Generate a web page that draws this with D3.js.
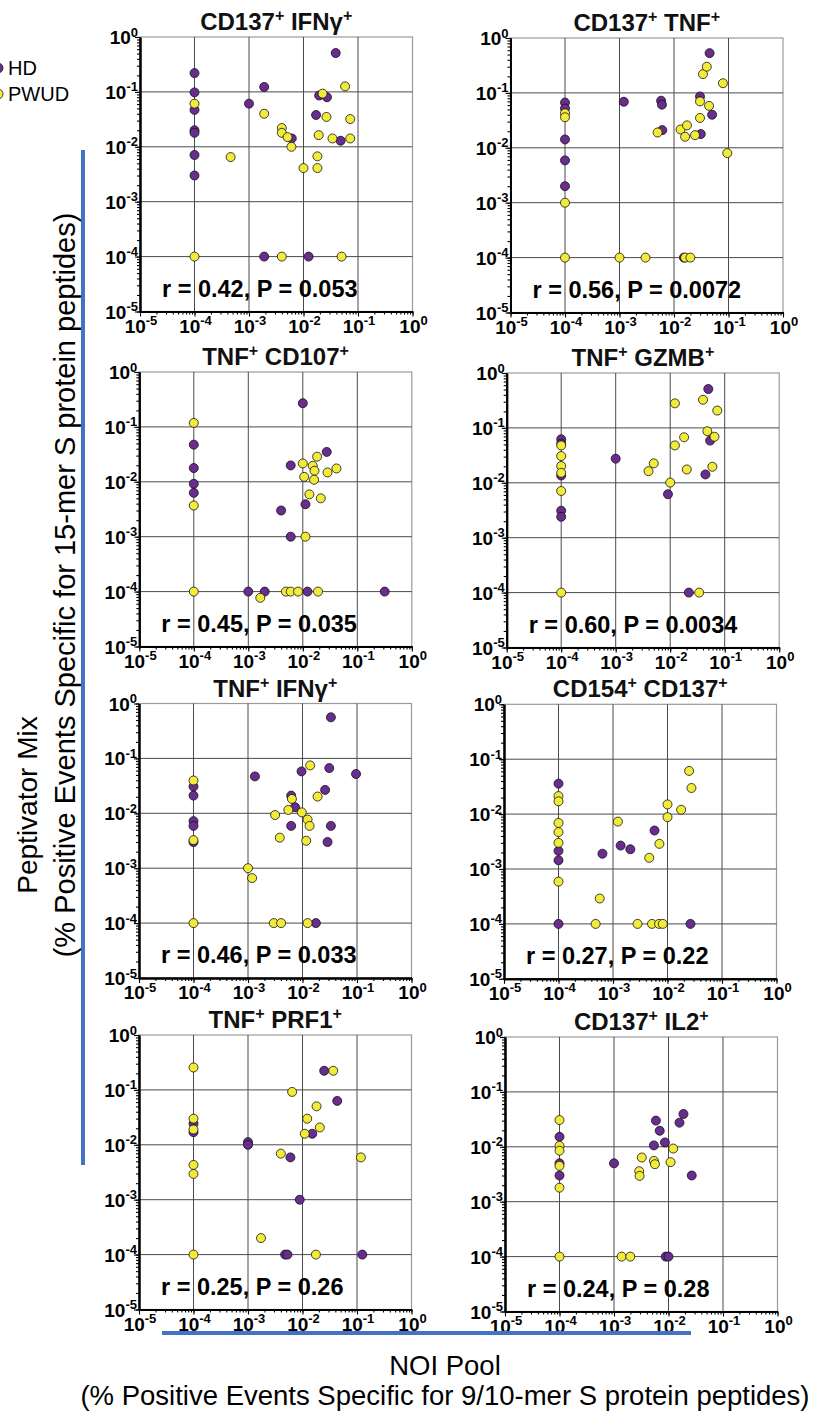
<!DOCTYPE html>
<html><head><meta charset="utf-8">
<script src="https://cdn.jsdelivr.net/npm/d3@7"></script>
<style>body{margin:0;background:#fff}svg{display:block}</style>
</head><body>
<svg id="chart" width="813" height="1413"></svg>
<script>
// ---------- data ----------
const seriesNames = ["HD", "PWUD"];
const panelTitles = [["CD137","IFNγ"],["CD137","TNF"],["TNF","CD107"],["TNF","GZMB"],["TNF","IFNγ"],["CD154","CD137"],["TNF","PRF1"],["CD137","IL2"]];
const statLabels = ["r = 0.42, P = 0.053","r = 0.56, P = 0.0072","r = 0.45, P = 0.035","r = 0.60, P = 0.0034","r = 0.46, P = 0.033","r = 0.27, P = 0.22","r = 0.25, P = 0.26","r = 0.24, P = 0.28"];
const decadeTicks = [1e-5, 1e-4, 1e-3, 1e-2, 1e-1, 1];
const tickExponents = ["-5","-4","-3","-2","-1","0"];
const yAxisTitle = ["Peptivator Mix", "(% Positive Events Specific for 15-mer S protein peptides)"];
const xAxisTitle = ["NOI Pool", "(% Positive Events Specific for 9/10-mer S protein peptides)"];

const cd137IfngHD = [[1e-4,0.22],[1e-4,0.098],[1e-4,0.047],[1e-4,0.020],[1e-4,0.018],[1e-4,0.0071],[1e-4,0.003],[0.0019,0.123],[0.001,0.061],[0.017,0.038],[0.0194,0.086],[0.027,0.080],[0.039,0.51],[0.0061,0.0142],[0.048,0.0129],[0.0019,1e-4],[0.0124,1e-4]];
const cd137IfngPWUD = [[1e-4,0.061],[1e-4,1e-4],[0.00046,0.0065],[0.0019,0.040],[0.0040,0.022],[0.0040,0.018],[0.0051,0.015],[0.006,0.010],[0.01,0.0041],[0.018,0.0067],[0.018,0.0041],[0.019,0.0163],[0.0224,0.093],[0.0264,0.035],[0.034,0.0142],[0.058,0.126],[0.072,0.032],[0.072,0.0142],[0.004,1e-4],[0.050,1e-4]];

const cd137TnfHD = [[1e-4,0.0666],[1e-4,0.052],[1e-4,0.0142],[1e-4,0.0059],[1e-4,0.002],[0.0012,0.069],[0.0058,0.072],[0.006,0.061],[0.0061,0.021],[0.030,0.086],[0.031,0.0178],[0.045,0.53],[0.050,0.040],[0.0152,1e-4]];
const cd137TnfPWUD = [[1e-4,0.0425],[1e-4,0.036],[1e-4,0.001],[1e-4,1e-4],[0.001,1e-4],[0.003,1e-4],[0.016,1e-4],[0.020,1e-4],[0.005,0.019],[0.0132,0.0216],[0.0173,0.0256],[0.016,0.0159],[0.0243,0.017],[0.030,0.035],[0.030,0.070],[0.044,0.058],[0.034,0.22],[0.040,0.30],[0.079,0.15],[0.095,0.008]];

const tnfCd107HD = [[1e-4,0.0475],[1e-4,0.0178],[1e-4,0.0092],[1e-4,0.0063],[0.01,0.27],[0.006,0.0199],[0.0112,0.0039],[0.004,0.003],[0.006,0.001],[0.0275,0.035],[0.001,1e-4],[0.002,1e-4],[0.0122,1e-4],[0.318,1e-4]];
const tnfCd107PWUD = [[1e-4,0.118],[1e-4,0.0037],[1e-4,1e-4],[0.00166,0.000077],[0.0049,1e-4],[0.006,1e-4],[0.0082,1e-4],[0.019,1e-4],[0.01,0.0216],[0.0106,0.0123],[0.0152,0.0196],[0.0164,0.0159],[0.0161,0.0109],[0.0183,0.0287],[0.0132,0.0059],[0.0214,0.005],[0.0284,0.0148],[0.0415,0.0175],[0.0112,0.001]];

const tnfGzmbHD = [[1e-4,0.062],[1e-4,0.052],[1e-4,0.0136],[1e-4,0.0031],[1e-4,0.0024],[0.001,0.0275],[0.0091,0.0062],[0.050,0.51],[0.054,0.0587],[0.0443,0.0142],[0.022,1e-4]];
const tnfGzmbPWUD = [[1e-4,0.048],[1e-4,0.0307],[1e-4,0.0202],[1e-4,0.0152],[1e-4,0.0071],[1e-4,1e-4],[0.0122,0.28],[0.040,0.325],[0.073,0.207],[0.048,0.087],[0.065,0.069],[0.018,0.0675],[0.0122,0.048],[0.005,0.0226],[0.004,0.0163],[0.01,0.0101],[0.0202,0.0175],[0.0594,0.0196],[0.034,1e-4]];

const tnfIfngHD = [[1e-4,0.0307],[1e-4,0.021],[1e-4,0.0072],[1e-4,0.0059],[1e-4,0.003],[0.00134,0.047],[0.0096,0.058],[0.0062,0.021],[0.0073,0.0129],[0.0062,0.0059],[0.026,0.0267],[0.031,0.0666],[0.0332,0.56],[0.0332,0.0059],[0.0288,0.003],[0.096,0.052],[0.0176,1e-4]];
const tnfIfngPWUD = [[1e-4,0.0396],[1e-4,0.00325],[1e-4,1e-4],[0.001,0.001],[0.00119,0.00066],[0.00314,0.0093],[0.00383,0.0036],[0.0055,0.0115],[0.0064,0.0183],[0.0097,0.0104],[0.0124,0.0077],[0.0135,0.0059],[0.0117,0.00316],[0.0138,0.0745],[0.0189,0.0202],[0.00297,1e-4],[0.00405,1e-4],[0.0124,1e-4]];

const cd154Cd137HD = [[1e-4,0.0359],[1e-4,0.00214],[1e-4,0.00144],[1e-4,1e-4],[0.00064,0.0019],[0.00138,0.00267],[0.00208,0.00229],[0.00578,0.00502],[0.0264,1e-4]];
const cd154Cd137PWUD = [[1e-4,0.0213],[1e-4,0.0171],[1e-4,0.0069],[1e-4,0.0047],[1e-4,0.0030],[1e-4,0.00059],[0.00057,0.00029],[0.00048,1e-4],[0.00123,0.0073],[0.00282,1e-4],[0.00462,0.0016],[0.0052,1e-4],[0.0070,1e-4],[0.0082,1e-4],[0.0071,0.00287],[0.01,0.0150],[0.01,0.0088],[0.0178,0.012],[0.0249,0.0612],[0.0275,0.0299]];

const tnfPrf1HD = [[1e-4,0.0242],[1e-4,0.017],[0.001,0.0112],[0.001,0.01],[0.006,0.0059],[0.0151,0.0159],[0.025,0.223],[0.0434,0.063],[0.0089,0.001],[0.0048,1e-4],[0.0053,1e-4],[0.125,1e-4]];
const tnfPrf1PWUD = [[1e-4,0.256],[1e-4,0.0299],[1e-4,0.019],[1e-4,0.0043],[1e-4,0.00295],[1e-4,1e-4],[0.00173,0.0002],[0.004,0.0069],[0.00645,0.0919],[0.011,0.0159],[0.0122,0.0299],[0.0181,0.0502],[0.0208,0.0207],[0.0366,0.223],[0.0176,1e-4],[0.118,0.0059]];

const cd137Il2HD = [[1e-4,0.0152],[1e-4,0.005],[1e-4,0.003],[0.001,0.005],[0.00588,0.030],[0.0054,0.0106],[0.0069,0.0196],[0.0086,0.012],[0.0159,0.0275],[0.0188,0.0396],[0.0267,0.003],[0.0089,1e-4],[0.01,1e-4]];
const cd137Il2PWUD = [[1e-4,0.0307],[1e-4,0.0104],[1e-4,0.0085],[1e-4,0.0045],[1e-4,0.0018],[1e-4,1e-4],[0.00138,1e-4],[0.00199,1e-4],[0.00324,0.00638],[0.0029,0.0036],[0.00295,0.00295],[0.0054,0.00554],[0.00564,0.00482],[0.0109,0.00525],[0.0122,0.0093]];

const hdSeries = [cd137IfngHD, cd137TnfHD, tnfCd107HD, tnfGzmbHD, tnfIfngHD, cd154Cd137HD, tnfPrf1HD, cd137Il2HD];
const pwudSeries = [cd137IfngPWUD, cd137TnfPWUD, tnfCd107PWUD, tnfGzmbPWUD, tnfIfngPWUD, cd154Cd137PWUD, tnfPrf1PWUD, cd137Il2PWUD];

// ---------- layout / style ----------
const panelOrigins = [[140,37],[510.5,38],[139.3,372],[506.7,373],[139,703.5],[504,704.3],[139,1035],[505,1037]];
const W = 272.5, H = 274.5;
const colors = {HD: "#692c8f", PWUD: "#f3eb3a"};
const FONT = "'Liberation Sans', Arial, Helvetica, sans-serif";

const svg = d3.select("#chart");
svg.append("rect").attr("width",813).attr("height",1413).attr("fill","#fff");

panelTitles.forEach((t, i) => {
  const [ox, oy] = panelOrigins[i];
  const g = svg.append("g").attr("transform", `translate(${ox},${oy})`);
  const x = d3.scaleLog().domain([1e-5, 1]).range([0, W]);
  const y = d3.scaleLog().domain([1e-5, 1]).range([H, 0]);

  g.append("rect").attr("width", W).attr("height", H).attr("fill", "none")
    .attr("stroke", "#9a9a9a").attr("stroke-width", 1.2);
  g.selectAll(".gx").data(decadeTicks.slice(1, 5)).join("line")
    .attr("x1", d => x(d)).attr("x2", d => x(d)).attr("y1", 0).attr("y2", H)
    .attr("stroke", "#4a4a4a").attr("stroke-width", 1);
  g.selectAll(".gy").data(decadeTicks.slice(1, 5)).join("line")
    .attr("y1", d => y(d)).attr("y2", d => y(d)).attr("x1", 0).attr("x2", W)
    .attr("stroke", "#4a4a4a").attr("stroke-width", 1);

  const minorX = d3.axisBottom(x).tickValues(x.ticks()).tickSize(3).tickSizeOuter(0).tickFormat("");
  const majorX = d3.axisBottom(x).tickValues(decadeTicks).tickSize(5).tickSizeOuter(0).tickFormat("");
  const minorY = d3.axisLeft(y).tickValues(y.ticks()).tickSize(3).tickSizeOuter(0).tickFormat("");
  const majorY = d3.axisLeft(y).tickValues(decadeTicks).tickSize(5).tickSizeOuter(0).tickFormat("");
  [minorX, majorX].forEach(a => {
    const ag = g.append("g").attr("transform", `translate(0,${H})`).call(a);
    ag.selectAll("line").attr("stroke", "#000").attr("stroke-width", 1.1);
    ag.select(".domain").attr("stroke", "#000").attr("stroke-width", 2);
  });
  [minorY, majorY].forEach(a => {
    const ag = g.append("g").call(a);
    ag.selectAll("line").attr("stroke", "#000").attr("stroke-width", 1.1);
    ag.select(".domain").attr("stroke", "#000").attr("stroke-width", 2);
  });

  decadeTicks.forEach((d, k) => {
    const ty = g.append("text").attr("x", -2).attr("y", y(d) + 7)
      .attr("text-anchor", "end").attr("font-family", FONT).attr("font-weight", "bold").attr("fill", "#000");
    ty.append("tspan").attr("font-size", 19).text("10");
    ty.append("tspan").attr("font-size", 13).attr("dy", -7.5).text(tickExponents[k]);
    const tx = g.append("text").attr("x", x(d) + 1).attr("y", H + 21)
      .attr("text-anchor", "middle").attr("font-family", FONT).attr("font-weight", "bold").attr("fill", "#000");
    tx.append("tspan").attr("font-size", 19).text("10");
    tx.append("tspan").attr("font-size", 13).attr("dy", -7.5).text(tickExponents[k]);
  });

  const tt = g.append("text").attr("x", W / 2).attr("y", -7).attr("text-anchor", "middle")
    .attr("font-family", FONT).attr("font-weight", "bold").attr("font-size", 24).attr("fill", "#111");
  tt.append("tspan").text(t[0]);
  tt.append("tspan").attr("font-size", 16).attr("dy", -9).text("+");
  tt.append("tspan").attr("dy", 9).text(" " + t[1]);
  tt.append("tspan").attr("font-size", 16).attr("dy", -9).text("+");

  [["HD", hdSeries[i]], ["PWUD", pwudSeries[i]]].forEach(([name, pts]) => {
    g.selectAll(null).data(pts).join("circle")
      .attr("cx", d => x(d[0])).attr("cy", d => y(d[1])).attr("r", 4.5)
      .attr("fill", colors[name]).attr("stroke", "#111").attr("stroke-width", 0.8);
  });

  g.append("text").attr("x", 22).attr("y", H - 15)
    .attr("font-family", FONT).attr("font-weight", "bold").attr("font-size", 23.5).attr("fill", "#000")
    .text(statLabels[i]);
});

// legend
seriesNames.forEach((n, k) => {
  const cy = 68 + k * 26;
  svg.append("circle").attr("cx", -2).attr("cy", cy).attr("r", 5)
    .attr("fill", colors[n]).attr("stroke", "#111").attr("stroke-width", 0.8);
  svg.append("text").attr("x", 8).attr("y", cy + 7).attr("font-family", FONT)
    .attr("font-size", 20).attr("fill", "#000").text(n);
});

// blue bracket lines
svg.append("line").attr("x1", 83).attr("x2", 83).attr("y1", 150).attr("y2", 1165)
  .attr("stroke", "#4472c4").attr("stroke-width", 4);
svg.append("line").attr("x1", 162).attr("x2", 691).attr("y1", 1333).attr("y2", 1333)
  .attr("stroke", "#4472c4").attr("stroke-width", 4);

// axis titles
svg.append("text").attr("transform", "translate(27,805) rotate(-90)")
  .attr("text-anchor", "middle").attr("dominant-baseline", "central")
  .attr("font-family", FONT).attr("font-size", 28).attr("fill", "#000").text(yAxisTitle[0]);
svg.append("text").attr("transform", "translate(65,585) rotate(-90)")
  .attr("text-anchor", "middle").attr("dominant-baseline", "central")
  .attr("font-family", FONT).attr("font-size", 29).attr("fill", "#000").text(yAxisTitle[1]);
svg.append("text").attr("x", 445).attr("y", 1365)
  .attr("text-anchor", "middle").attr("dominant-baseline", "central")
  .attr("font-family", FONT).attr("font-size", 27.5).attr("fill", "#000").text(xAxisTitle[0]);
svg.append("text").attr("x", 445).attr("y", 1395)
  .attr("text-anchor", "middle").attr("dominant-baseline", "central")
  .attr("font-family", FONT).attr("font-size", 27.5).attr("fill", "#000").text(xAxisTitle[1]);
</script>
</body></html>
